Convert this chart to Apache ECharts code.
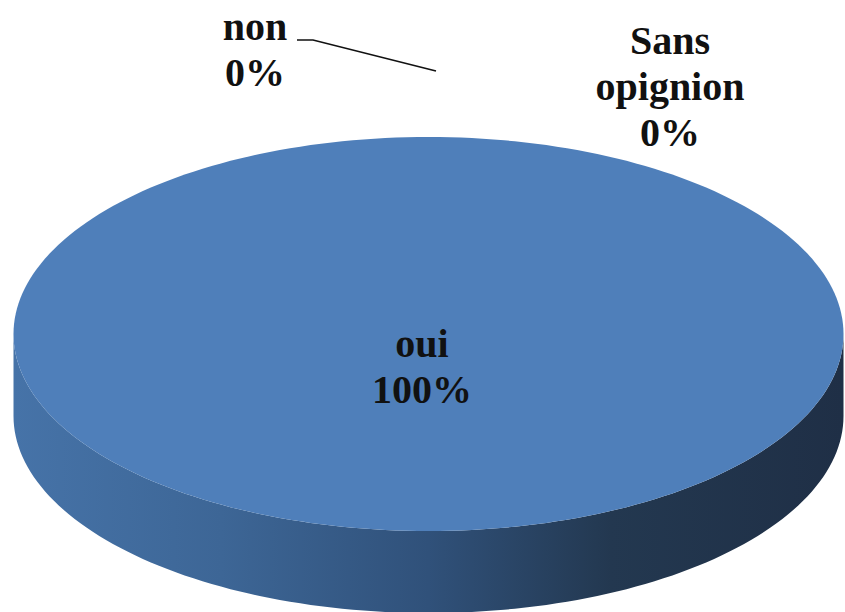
<!DOCTYPE html>
<html>
<head>
<meta charset="utf-8">
<script src="https://cdn.jsdelivr.net/npm/echarts@6/dist/echarts.min.js"></script>
<style>
  html, body { margin: 0; padding: 0; background: #fff; }
  #graph { width: 845px; height: 612px; }
</style>
</head>
<body>
<div id="graph"></div>
<script>
  // 类别名称和对应的数值
  var catName = ['oui', 'non', 'Sans opignion'];
  var pieData = [100, 0, 0];
  // 标签里显示的文字（带换行）
  var labelText = ['oui', 'non', 'Sans\nopignion'];

  // 饼图的椭圆几何和标签位置
  var pie = { cx: 428.5, cy: 334, rx: 415, ry: 197, depth: 82 };
  var labelPos = [[422, 366], [255, 49], [670, 86]];
  var labelLine = [null, [[297, 40], [313, 40], [436, 71]], null];

  var total = pieData.reduce(function (a, b) { return a + b; }, 0);

  function pt(theta, dy) {
    // 从12点方向开始顺时针
    return [pie.cx + pie.rx * Math.sin(theta), pie.cy - pie.ry * Math.cos(theta) + (dy || 0)];
  }
  function arc(a0, a1, dy) {
    var pts = [];
    var n = Math.max(2, Math.ceil((a1 - a0) / (Math.PI * 2) * 240));
    for (var k = 0; k <= n; k++) {
      pts.push(pt(a0 + (a1 - a0) * k / n, dy));
    }
    return pts;
  }
  function angles(i) {
    var start = 0;
    for (var j = 0; j < i; j++) start += pieData[j];
    return [start / total * Math.PI * 2, (start + pieData[i]) / total * Math.PI * 2];
  }

  // 侧面
  function renderSide(params, api) {
    var a = angles(params.dataIndex);
    var s0 = Math.max(a[0], Math.PI / 2), s1 = Math.min(a[1], Math.PI * 3 / 2);
    if (s1 <= s0) return { type: 'group', children: [] };
    var pts = arc(s0, s1, 0).concat(arc(s0, s1, pie.depth).reverse());
    return {
      type: 'polygon',
      shape: { points: pts },
      style: {
        fill: new echarts.graphic.LinearGradient(0, 0, 1, 0, [
          { offset: 0, color: '#4673a8' },
          { offset: 0.25, color: '#3d6696' },
          { offset: 0.5, color: '#30517a' },
          { offset: 0.72, color: '#233850' },
          { offset: 1, color: '#1f2f46' }
        ]),
        stroke: null
      }
    };
  }

  // 顶面和标签
  function renderTop(params, api) {
    var i = params.dataIndex;
    var a = angles(i);
    var children = [];
    if (a[1] > a[0]) {
      var pts = arc(a[0], a[1], 0);
      if (a[1] - a[0] < Math.PI * 2 - 1e-6) pts.push([pie.cx, pie.cy]);
      children.push({
        type: 'polygon',
        shape: { points: pts },
        style: { fill: '#4f7fba', stroke: null }
      });
    }
    if (labelLine[i]) {
      children.push({
        type: 'polyline',
        shape: { points: labelLine[i] },
        style: { stroke: '#111', lineWidth: 1.6, fill: null }
      });
    }
    children.push({
      type: 'text',
      x: labelPos[i][0],
      y: labelPos[i][1],
      style: {
        text: labelText[i] + '\n' + Math.round(pieData[i] / total * 100) + '%',
        fontFamily: "'Liberation Serif', 'Times New Roman', serif",
        fontWeight: 'bold',
        fontSize: 40,
        lineHeight: 46,
        fill: '#111',
        align: 'center',
        verticalAlign: 'middle'
      }
    });
    return { type: 'group', children: children };
  }

  var myChart = echarts.init(document.getElementById('graph'), null, { renderer: 'svg' });
  var seriesData = catName.map(function (name, i) { return { name: name, value: pieData[i] }; });
  var option = {
    animation: false,
    series: [
      { type: 'custom', coordinateSystem: 'none', renderItem: renderSide, data: seriesData, silent: true },
      { type: 'custom', coordinateSystem: 'none', renderItem: renderTop, data: seriesData, silent: true }
    ]
  };
  myChart.setOption(option);
</script>
</body>
</html>
